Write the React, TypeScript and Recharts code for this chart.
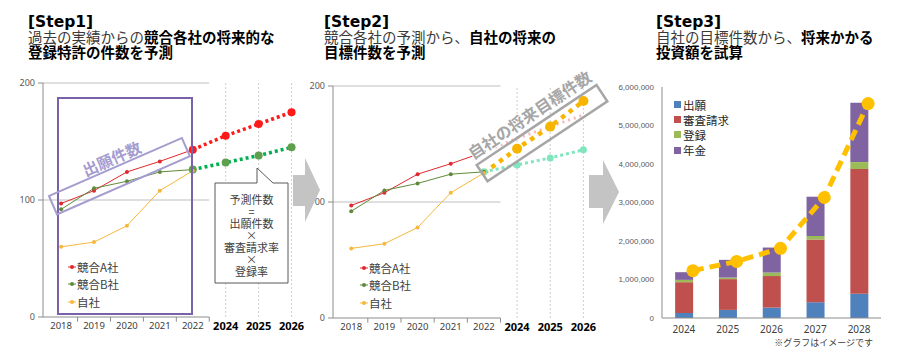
import { LineChart, Line, XAxis, YAxis, ReferenceLine, Legend, ComposedChart, Bar } from 'recharts';

// Step1 / Step2: yearly patent counts (index), past 2018-2022, forecast 2024-2026
const years = ['2018', '2019', '2020', '2021', '2022', '2024', '2025', '2026'];
const forecastYears = ['2024', '2025', '2026'];
const trendNames = ['競合A社', '競合B社', '自社'];
const rivalA = [97, 108, 124, 133, 143, null, null, null];
const rivalB = [92, 110, 116, 124, 126, null, null, null];
const ownPast = [60, 64, 78, 108, 125, null, null, null];
const rivalAForecast = [null, null, null, null, 143, 155, 165, 175];
const rivalBForecast = [null, null, null, null, 126, 132, 138, 145];
const ownTarget = [null, null, null, null, 125, 146, 165, 187];
const countTicks = [0, 100, 200];

// Step3: estimated cost by item
const costYears = ['2024', '2025', '2026', '2027', '2028'];
const costNames = ['出願', '審査請求', '登録', '年金'];
const filing = [130000, 210000, 270000, 410000, 630000];
const examination = [800000, 800000, 820000, 1630000, 3240000];
const registration = [60000, 40000, 90000, 90000, 180000];
const annuity = [200000, 460000, 650000, 1020000, 1540000];
const totalEstimate = [1230000, 1470000, 1810000, 3130000, 5570000];
const costTicks = [0, 1000000, 2000000, 3000000, 4000000, 5000000, 6000000];

const JP = "'Noto Sans CJK JP', 'Noto Sans', sans-serif";
const LATIN = "'Noto Sans', 'Liberation Sans', sans-serif";
const WIDE = "'DejaVu Sans', sans-serif";

const trendRows = years.map((year, i) => ({
  slot: i,
  year,
  rivalA: rivalA[i],
  rivalB: rivalB[i],
  own: ownPast[i],
  rivalAForecast: rivalAForecast[i],
  rivalBForecast: rivalBForecast[i],
  ownTarget: ownTarget[i],
}));

const costRows = costYears.map((year, i) => ({
  year,
  filing: filing[i],
  examination: examination[i],
  registration: registration[i],
  annuity: annuity[i],
  total: totalEstimate[i],
}));

const slotStart = -0.55;
const slotEnd = years.length - 0.5;
const pastEnd = rivalA.filter((v) => v !== null).length - 0.5;
const pastBreaks = rivalA.filter((v) => v !== null).map((_, i) => i + 0.5);

function pick(payload: any[] | undefined, names: string[]) {
  return (payload ?? [])
    .filter((p: any) => names.includes(p.value))
    .sort((a: any, b: any) => names.indexOf(a.value) - names.indexOf(b.value));
}

function YearTick(props: any) {
  const { x, y, payload } = props;
  const label = years[payload.value];
  const future = forecastYears.includes(label);
  return (
    <text
      x={x}
      y={y + 5}
      textAnchor="middle"
      dominantBaseline="central"
      fontSize={future ? 11 : 9.5}
      fontWeight={future ? 700 : 400}
      fill={future ? '#000' : '#404040'}
      fontFamily={LATIN}
    >
      {label}
    </text>
  );
}

function TrendLegend(props: any) {
  const items = pick(props.payload, trendNames);
  return (
    <div style={{ fontFamily: JP, fontSize: 11.5, color: '#404040' }}>
      {items.map((p: any) => (
        <div key={p.value} style={{ display: 'flex', alignItems: 'center', height: 17.5 }}>
          <svg width={8} height={6}>
            <line x1={0} y1={3} x2={8} y2={3} stroke={p.color} strokeWidth={1} />
            <circle cx={4} cy={3} r={2} fill={p.color} />
          </svg>
          <span style={{ marginLeft: 1 }}>{p.value}</span>
        </div>
      ))}
    </div>
  );
}

function CostLegend(props: any) {
  const items = pick(props.payload, costNames);
  return (
    <div style={{ fontFamily: JP, fontSize: 11.5, color: '#262626' }}>
      {items.map((p: any) => (
        <div key={p.value} style={{ display: 'flex', alignItems: 'center', height: 15.2 }}>
          <span style={{ width: 7, height: 7, background: p.color, display: 'inline-block' }} />
          <span style={{ marginLeft: 2 }}>{p.value}</span>
        </div>
      ))}
    </div>
  );
}

// axis pieces shared by step1/step2 (grid and x axis only under the past years)
function trendFrame() {
  return [
    ...countTicks.filter((t) => t > 0).map((t) => (
      <ReferenceLine key={'g' + t} segment={[{ x: slotStart, y: t }, { x: pastEnd, y: t }]} stroke="#bfbfbf" />
    )),
    ...years.filter((y) => forecastYears.includes(y)).map((y) => (
      <ReferenceLine key={'v' + y} x={years.indexOf(y)} stroke="#cfcfcf" strokeDasharray="2 2" />
    )),
    <ReferenceLine key="xaxis" segment={[{ x: slotStart, y: 0 }, { x: pastEnd, y: 0 }]} stroke="#8c8c8c" />,
    ...pastBreaks.map((b) => (
      <ReferenceLine
        key={'t' + b}
        segment={[{ x: b, y: 0 }, { x: b, y: -4 }]}
        stroke="#8c8c8c"
        ifOverflow="visible"
      />
    )),
  ];
}

function trendAxes() {
  return [
    <XAxis
      key="x"
      type="number"
      dataKey="slot"
      domain={[slotStart, slotEnd]}
      allowDataOverflow
      ticks={years.map((_, i) => i)}
      interval={0}
      tick={<YearTick />}
      axisLine={false}
      tickLine={false}
      tickSize={0}
      tickMargin={3}
      height={23}
    />,
    <YAxis
      key="y"
      domain={[0, 200]}
      ticks={countTicks}
      width={35}
      axisLine={{ stroke: '#8c8c8c' }}
      tickLine={{ stroke: '#8c8c8c' }}
      tickSize={5}
      tickMargin={3}
      tick={{ fontSize: 9, fill: '#595959', fontFamily: LATIN }}
    />,
  ];
}

function pastLines() {
  return [
    <Line key="a" dataKey="rivalA" name={trendNames[0]} stroke="#e0282e" strokeWidth={1} dot={{ r: 2, fill: '#e0282e', stroke: 'none' }} isAnimationActive={false} />,
    <Line key="b" dataKey="rivalB" name={trendNames[1]} stroke="#5f8a3a" strokeWidth={1} dot={{ r: 2, fill: '#5f8a3a', stroke: 'none' }} isAnimationActive={false} />,
    <Line key="o" dataKey="own" name={trendNames[2]} stroke="#f6b83c" strokeWidth={1} dot={{ r: 2, fill: '#f6b83c', stroke: 'none' }} isAnimationActive={false} />,
  ];
}

function StepOneChart() {
  return (
    <LineChart width={305} height={265} data={trendRows} margin={{ top: 8, right: 5, bottom: 0, left: 0 }}>
      {trendAxes()}
      {trendFrame()}
      <Line
        dataKey="rivalAForecast"
        stroke="#ff1a1a"
        strokeWidth={3.5}
        strokeDasharray="3 3"
        dot={{ r: 4, fill: '#ff1a1a', stroke: 'none' }}
        legendType="none"
        isAnimationActive={false}
      />
      <Line
        dataKey="rivalBForecast"
        stroke="#00b050"
        strokeWidth={3.5}
        strokeDasharray="3 3"
        dot={{ r: 4, fill: '#5fa04e', stroke: 'none' }}
        legendType="none"
        isAnimationActive={false}
      />
      {pastLines()}
      <Legend
        layout="vertical"
        align="center"
        verticalAlign="middle"
        content={<TrendLegend />}
        wrapperStyle={{ left: 60, top: 183, width: 80 }}
      />
    </LineChart>
  );
}

function StepTwoChart() {
  return (
    <LineChart width={307} height={264} data={trendRows} margin={{ top: 9, right: 5, bottom: 0, left: 0 }}>
      {trendAxes()}
      {trendFrame()}
      <Line
        dataKey="rivalAForecast"
        stroke="#f6b8b8"
        strokeWidth={3}
        strokeDasharray="2 4"
        dot={false}
        legendType="none"
        isAnimationActive={false}
      />
      <Line
        dataKey="rivalBForecast"
        stroke="#7fe6bd"
        strokeWidth={3}
        strokeDasharray="3 3"
        dot={{ r: 3.5, fill: '#7fe6bd', stroke: 'none' }}
        legendType="none"
        isAnimationActive={false}
      />
      {pastLines()}
      <Line
        dataKey="ownTarget"
        stroke="#f7b500"
        strokeWidth={4.5}
        strokeDasharray="4.5 5"
        dot={(p: any) =>
          p.index > 4 ? <circle key={p.index} cx={p.cx} cy={p.cy} r={5} fill="#f7b500" /> : <g key={p.index} />
        }
        legendType="none"
        isAnimationActive={false}
      />
      <Legend
        layout="vertical"
        align="center"
        verticalAlign="middle"
        content={<TrendLegend />}
        wrapperStyle={{ left: 62, top: 182, width: 80 }}
      />
    </LineChart>
  );
}

function StepThreeChart() {
  return (
    <ComposedChart
      width={290}
      height={264}
      data={costRows}
      margin={{ top: 9, right: 7, bottom: 0, left: 0 }}
      barCategoryGap="30%"
    >
      <XAxis
        dataKey="year"
        axisLine={{ stroke: '#8c8c8c' }}
        tickLine={false}
        tick={{ fontSize: 10, fill: '#404040', fontFamily: LATIN }}
        height={24}
      />
      <YAxis
        domain={[0, 6000000]}
        ticks={costTicks}
        width={64}
        axisLine={{ stroke: '#8c8c8c' }}
        tickLine={false}
        tickFormatter={(v: number) => v.toLocaleString('en-US')}
        tick={{ fontSize: 8, fill: '#595959', fontFamily: "'Liberation Sans', sans-serif" }}
      />
      <Bar dataKey="filing" name={costNames[0]} stackId="cost" fill="#4f81bd" isAnimationActive={false} />
      <Bar dataKey="examination" name={costNames[1]} stackId="cost" fill="#c0504d" isAnimationActive={false} />
      <Bar dataKey="registration" name={costNames[2]} stackId="cost" fill="#9bbb59" isAnimationActive={false} />
      <Bar dataKey="annuity" name={costNames[3]} stackId="cost" fill="#8064a2" isAnimationActive={false} />
      <Line
        dataKey="total"
        name="total"
        stroke="#ffc000"
        strokeWidth={5}
        strokeDasharray="11 6"
        dot={{ r: 6.5, fill: '#ffc000', stroke: 'none' }}
        legendType="none"
        isAnimationActive={false}
      />
      <Legend
        layout="vertical"
        align="center"
        verticalAlign="middle"
        content={<CostLegend />}
        wrapperStyle={{ left: 76, top: 19, width: 90 }}
      />
    </ComposedChart>
  );
}

function StepTitle({ step, light, bold, second, left }: { step: string; light: string; bold: string; second: string; left: number }) {
  return (
    <div style={{ position: 'absolute', left, top: 15, fontFamily: JP, color: '#000', whiteSpace: 'nowrap' }}>
      <div style={{ fontFamily: WIDE, fontWeight: 700, fontSize: 15.5, lineHeight: '14px' }}>{step}</div>
      <div style={{ fontSize: 14.5, lineHeight: '15px' }}>
        <span style={{ color: '#3a3a3a' }}>{light}</span>
        <span style={{ fontWeight: 700 }}>{bold}</span>
      </div>
      <div style={{ fontSize: 14.5, lineHeight: '15px', fontWeight: 700 }}>{second}</div>
    </div>
  );
}

const calloutLines = ['予測件数', '=', '出願件数', '×', '審査請求率', '×', '登録率'];

export default function App() {
  return (
    <div style={{ position: 'absolute', left: 0, top: 0, width: 901, height: 361, background: '#fff', overflow: 'hidden', fontFamily: JP }}>
      <style>{`.cost-chart .recharts-line-curve, .cost-chart .recharts-line-dots { transform: translateX(9px); }`}</style>
      <StepTitle left={28} step="[Step1]" light="過去の実績からの" bold="競合各社の将来的な" second="登録特許の件数を予測" />
      <StepTitle left={324} step="[Step2]" light="競合各社の予測から、" bold="自社の将来の" second="目標件数を予測" />
      <StepTitle left={656} step="[Step3]" light="自社の目標件数から、" bold="将来かかる" second="投資額を試算" />

      <div style={{ position: 'absolute', left: 8, top: 75 }}>
        <StepOneChart />
      </div>
      <div style={{ position: 'absolute', left: 298, top: 77 }}>
        <StepTwoChart />
      </div>
      <div className="cost-chart" style={{ position: 'absolute', left: 598, top: 78 }}>
        <StepThreeChart />
      </div>

      <svg width={901} height={361} style={{ position: 'absolute', left: 0, top: 0, pointerEvents: 'none' }}>
        {/* step1 annotations */}
        <rect x={58} y={98} width={134} height={216} fill="none" stroke="#7b61a8" strokeWidth={2} />
        <g transform="translate(49 196) rotate(-23.6)">
          <rect width={145} height={20} fill="none" stroke="#a59ccf" strokeWidth={2} />
          <text x={72.5} y={-10} textAnchor="middle" dominantBaseline="central" fontSize={15.5} fontWeight={700} fill="#a59ccf" fontFamily={JP}>
            出願件数
          </text>
        </g>
        <path d="M215 183 H257 V168 L273 183 H288 V283 H215 Z" fill="#fff" stroke="#595959" strokeWidth={1} />
        {calloutLines.map((t, i) => (
          <text key={i} x={251.5} y={199 + i * 12} textAnchor="middle" dominantBaseline="central" fontSize={11} fill="#404040" fontFamily={JP}>
            {t}
          </text>
        ))}

        {/* arrows */}
        <path d="M293 175 H305 V158 L320 190 L305 222 V206 H293 Z" fill="#c4c4c4" />
        <path d="M589 175 H603 V160 L619 192 L603 224 V208 H589 Z" fill="#c4c4c4" />

        {/* step2 annotation */}
        <g transform="translate(476.7 165) rotate(-33.7)">
          <rect width={144} height={19.5} fill="none" stroke="#a6a6a6" strokeWidth={2.5} />
          <text
            x={72}
            y={-13}
            textAnchor="middle"
            dominantBaseline="central"
            fontSize={16}
            fontWeight={700}
            fill="#a6a6a6"
            stroke="#fff"
            strokeWidth={2}
            paintOrder="stroke"
            fontFamily={JP}
          >
            自社の将来目標件数
          </text>
        </g>

        <text x={873} y={342} textAnchor="end" dominantBaseline="central" fontSize={9} fill="#404040" fontFamily={JP}>
          ※グラフはイメージです
        </text>
      </svg>
    </div>
  );
}
